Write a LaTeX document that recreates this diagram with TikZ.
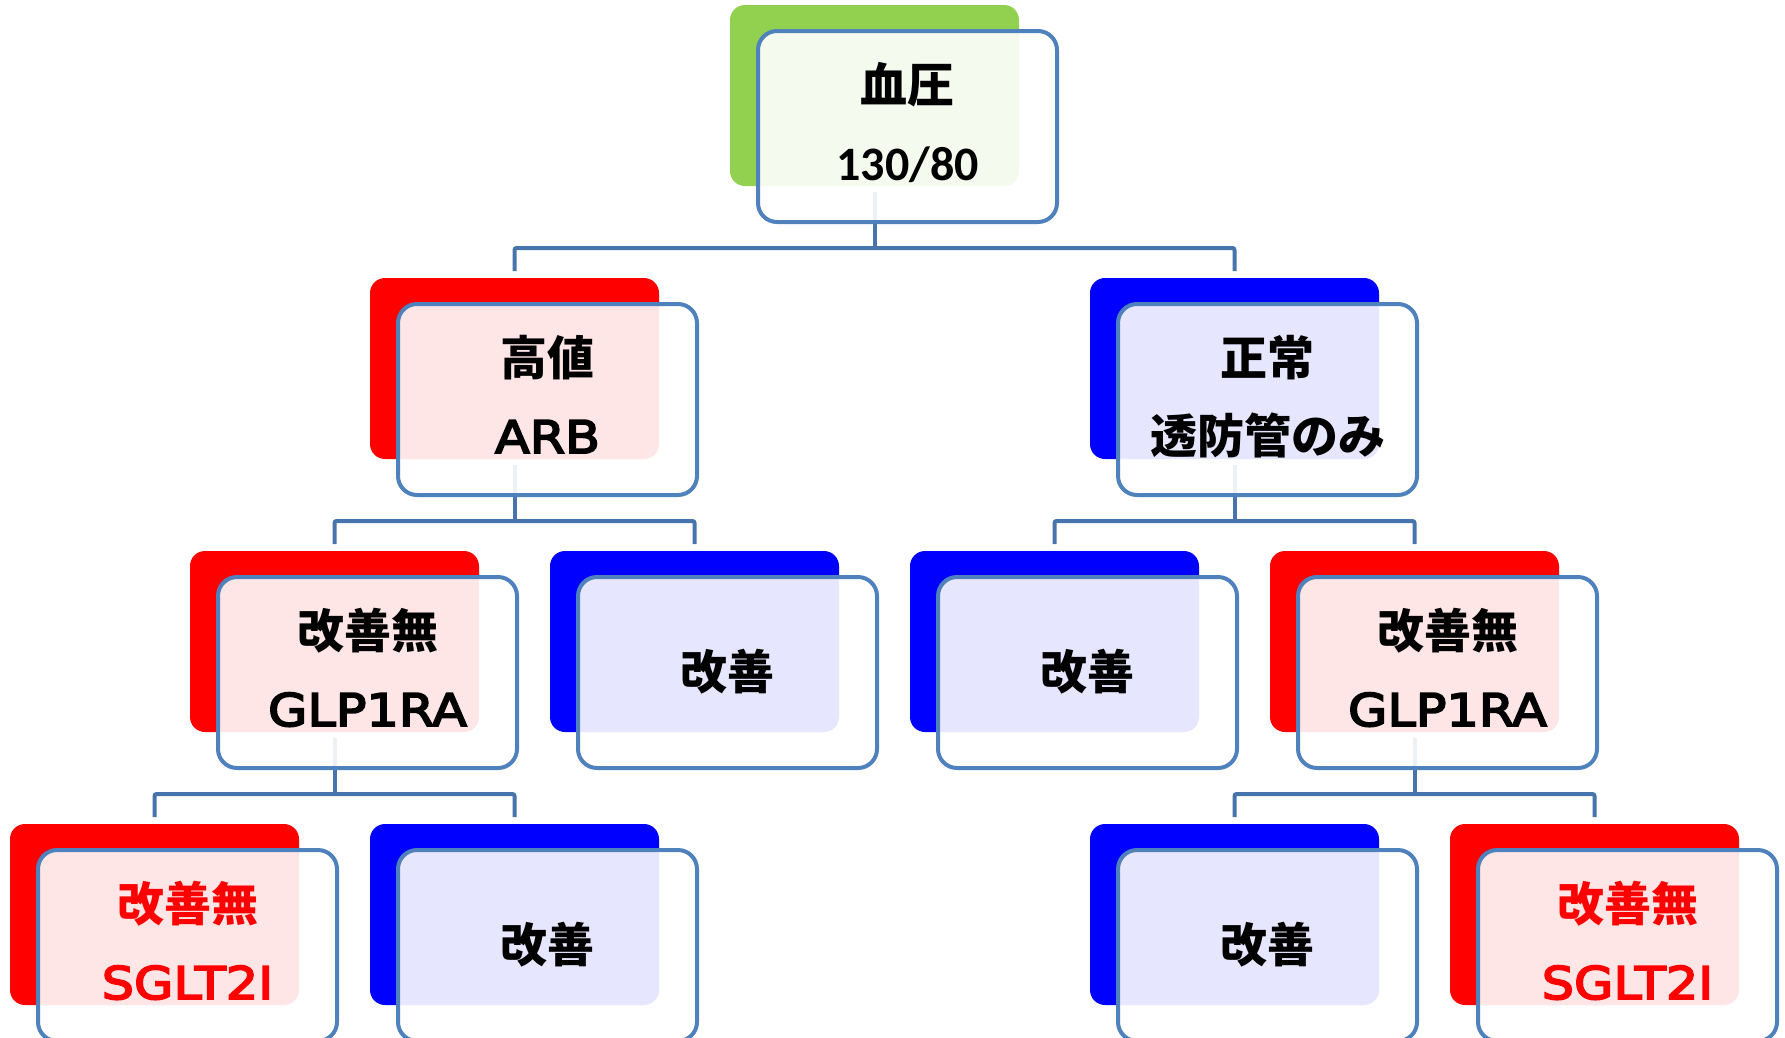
\documentclass[tikz,border=0pt]{standalone}
\usepackage{fontspec}
\usetikzlibrary{calc}
\newfontfamily\jpfont{Noto Sans CJK JP}
\newfontfamily\latfont{DejaVu Sans}[FakeStretch=1.13, FakeBold=4]
\newfontfamily\calfont{Carlito}
\definecolor{framec}{HTML}{4F81BD}
\definecolor{connc}{HTML}{4775AB}
\definecolor{greenc}{HTML}{92D050}
\definecolor{redc}{HTML}{FF0000}
\definecolor{bluec}{HTML}{0000FF}
\pgfdeclarelayer{bg}\pgfsetlayers{bg,main}
\tikzset{
 backbox/.style={rectangle, rounded corners=15pt, minimum width=289pt, minimum height=181pt, inner sep=0pt, outer sep=0pt, anchor=north west},
 tframe/.style={rectangle, rounded corners=19pt, draw=framec, line width=4pt, fill=white, fill opacity=0.9, minimum width=299pt, minimum height=191pt, inner sep=0pt, outer sep=0pt, anchor=north west},
 jp/.style={font=\jpfont\bfseries\fontsize{47}{47}\selectfont, anchor=base, inner sep=0pt},
 lat/.style={font=\latfont\fontsize{45}{45}\selectfont, anchor=base, inner sep=0pt},
 num/.style={font=\calfont\bfseries\fontsize{48}{48}\selectfont, anchor=base, inner sep=0pt},
 conn/.style={draw=connc, line width=4pt, rounded corners=2pt},
}
\newcommand\mkunit[4]{%
 \node[backbox, fill=#4] (#1b) at (#2,#3) {};
 \node[tframe] (#1f) at ([xshift=28pt,yshift=-26pt]#1b.north west) {};
}
\begin{document}
\begin{tikzpicture}[x=1pt,y=-1pt]
\useasboundingbox (0,0) rectangle (1785,1037);
\clip (0,0) rectangle (1785,1037);
% level 0
\mkunit{r0}{730}{5}{greenc}
% level 1
\mkunit{a}{370}{278}{redc}
\mkunit{b}{1090}{278}{bluec}
% level 2
\mkunit{aa}{190}{551}{redc}
\mkunit{ab}{550}{551}{bluec}
\mkunit{ba}{910}{551}{bluec}
\mkunit{bb}{1270}{551}{redc}
% level 3
\mkunit{aaa}{10}{824}{redc}
\mkunit{aab}{370}{824}{bluec}
\mkunit{bba}{1090}{824}{bluec}
\mkunit{bbb}{1450}{824}{redc}
% texts
\node[jp] (t0a) at ([yshift=-71pt]r0f.north) {血圧};
\node[num] (t0b) at ([yshift=-149pt]r0f.north) {130/80};
\node[jp] (taa) at ([yshift=-71pt]af.north) {高値};
\node[lat] (tab) at ([yshift=-149pt]af.north) {ARB};
\node[jp] (tba) at ([yshift=-71pt]bf.north) {正常};
\node[jp] (tbb) at ([yshift=-149pt]bf.north) {透防管のみ};
\node[jp] (taaa) at ([yshift=-71pt]aaf.north) {改善無};
\node[lat] (taab) at ([yshift=-149pt]aaf.north) {GLP1RA};
\node[jp] (tab1) at ([yshift=-112pt]abf.north) {改善};
\node[jp] (tba1) at ([yshift=-112pt]baf.north) {改善};
\node[jp] (tbba) at ([yshift=-71pt]bbf.north) {改善無};
\node[lat] (tbbb) at ([yshift=-149pt]bbf.north) {GLP1RA};
\node[jp, text=redc] (t3a1) at ([yshift=-71pt]aaaf.north) {改善無};
\node[lat, text=redc] (t3a2) at ([yshift=-149pt]aaaf.north) {SGLT2I};
\node[jp] (t3b) at ([yshift=-112pt]aabf.north) {改善};
\node[jp] (t3c) at ([yshift=-112pt]bbaf.north) {改善};
\node[jp, text=redc] (t3d1) at ([yshift=-71pt]bbbf.north) {改善無};
\node[lat, text=redc] (t3d2) at ([yshift=-149pt]bbbf.north) {SGLT2I};
% connectors
\begin{pgfonlayer}{bg}
\foreach \p/\c/\d in {r0/a/b, a/aa/ab, b/ba/bb, aa/aaa/aab, bb/bba/bbb} {
  \coordinate (h\p) at ([yshift=-26pt]\p f.south);
  \draw[conn] ([yshift=-6pt]\p b.south) -- (\p b.south |- h\p);
  \draw[conn] ([yshift=7pt]\c b.north) -- (\c b.north |- h\p) -- (\d b.north |- h\p) -- ([yshift=7pt]\d b.north);
}
\end{pgfonlayer}
\end{tikzpicture}
\end{document}
